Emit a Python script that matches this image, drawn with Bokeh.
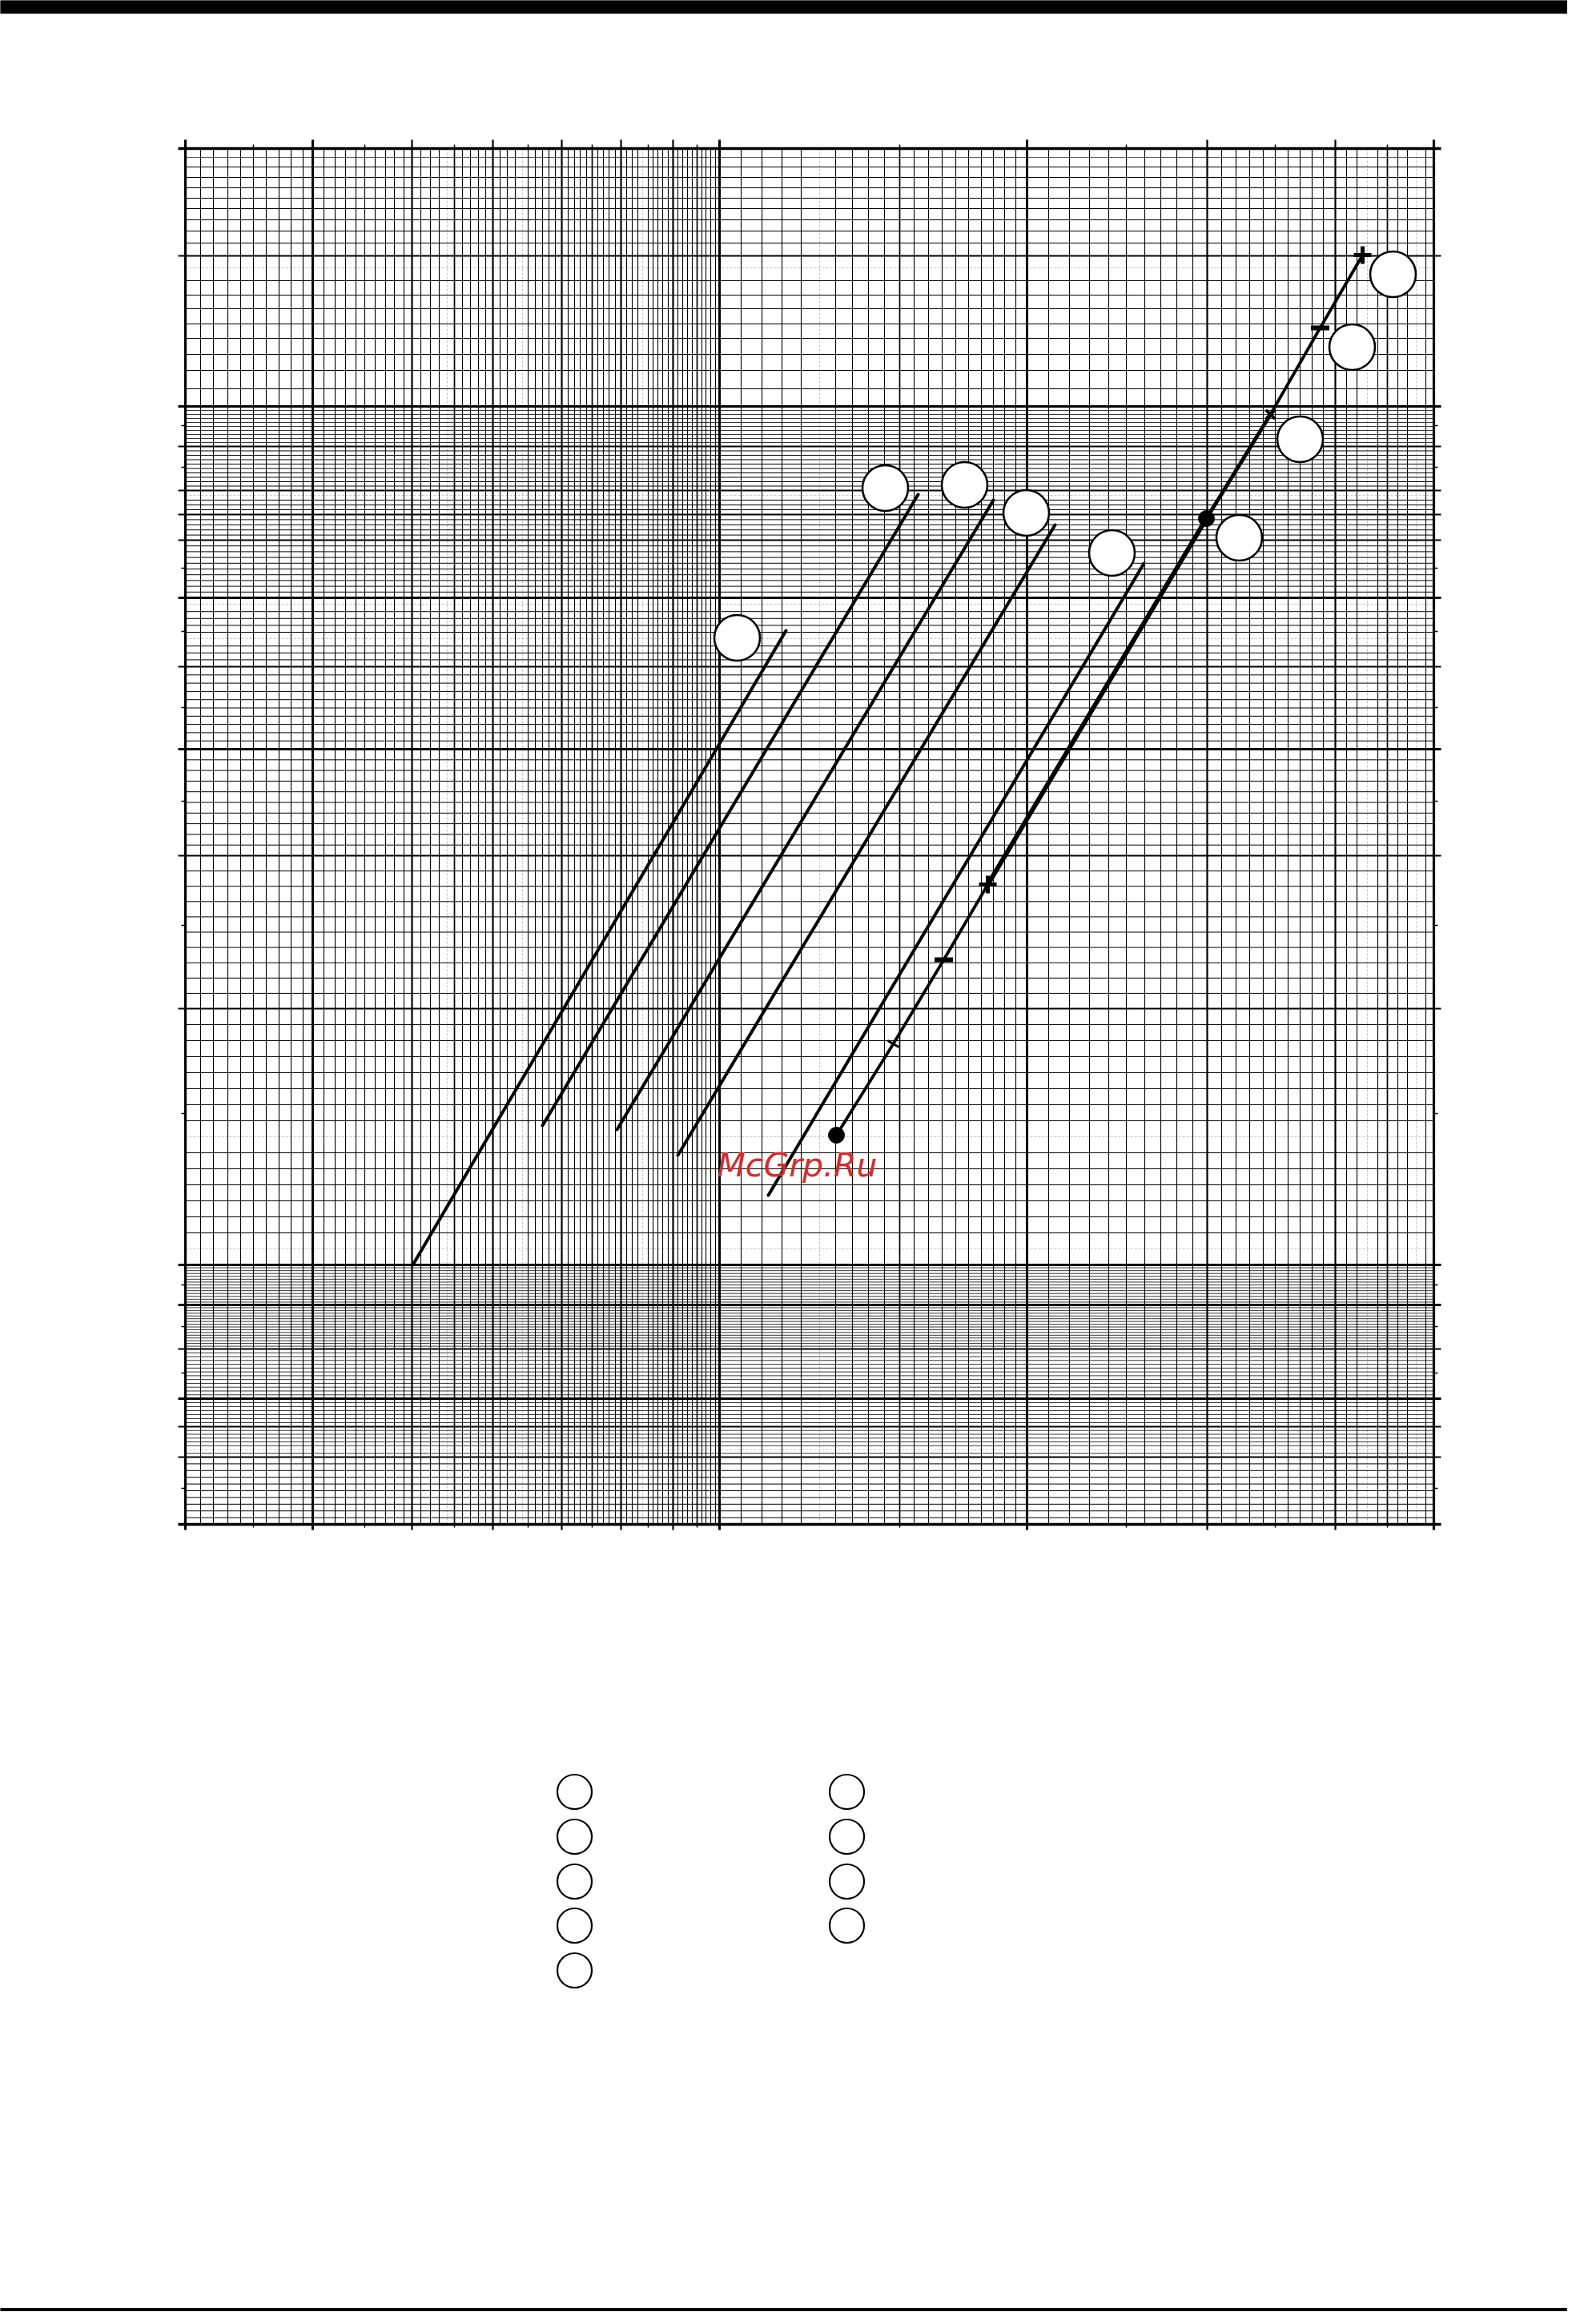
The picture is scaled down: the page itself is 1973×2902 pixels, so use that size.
import numpy as np
from bokeh.plotting import figure
from bokeh.models import Range1d
from bokeh.embed import file_html
from bokeh.resources import INLINE
from bokeh.core.properties import value

# Chart units: x 0..1559 (left..right border), y 0..1718 (bottom..top border)
X_END, Y_END = 1559, 1718

# ---- vertical grid lines (x positions, chart units) ----
x_heavy = [159, 667, 1051]
x_major = [283, 384, 470, 544, 609, 1276, 1436]
x_medium = [336, 508, 639, 892, 1501]
x_minor = [19, 35, 53, 69, 85, 101, 117, 132, 147,
           173, 187, 200, 213, 224, 237, 250, 261, 273,
           294, 306, 317, 346, 356, 366, 375,
           393, 402, 412, 428, 437, 446, 454, 462,
           478, 486, 493, 501, 515, 522, 529, 537,
           551, 558, 565, 578, 584, 590, 596, 603,
           615, 621, 627, 633, 645, 650, 656, 662,
           694, 720, 745, 769, 812, 833, 853, 873, 910, 928, 945, 962, 978, 994,
           1009, 1023, 1037,
           1078, 1104, 1129, 1153, 1175, 1198, 1218, 1238, 1258,
           1294, 1312, 1329, 1346, 1361, 1377, 1392, 1407, 1421,
           1450, 1463, 1489, 1514, 1526, 1549]
x_gray = [327, 421, 571, 792, 1476, 1537]
x_ticks_short = [85, 224, 336, 428, 508, 578, 639, 892, 1175, 1361, 1501]

# ---- horizontal grid lines (y positions, chart units) ----
y_heavy = [157, 274, 324, 968, 1157, 1396]
y_major = [84, 122, 219, 644, 835, 1071, 1229, 1261, 1291, 1346, 1584]
# sections between consecutive major lines and their number of divisions
y_sections = [0, 84, 122, 157, 219, 274, 324, 644, 835, 968, 1071, 1157,
              1229, 1261, 1291, 1346, 1396]
y_divisions = [10, 8, 7, 13, 16, 14, 16, 10, 10, 10, 10, 10, 5, 5, 10, 10]
y_minor_upper = [1418, 1441, 1461, 1481, 1499, 1518, 1535, 1553,
                 1600, 1615, 1629, 1643, 1656, 1669, 1682, 1695]
y_gray = [1707, 1569, 1285, 1149, 1106, 484, 344, 93]
y_ticks_short = [1372, 1320, 1194, 1115, 1020, 903, 748, 513, 299, 247, 189, 45]

# ---- curves ----
curve_x = [[284, 750], [446, 915], [539, 1009], [615, 1086], [728, 1197]]
curve_y = [[324, 1116], [498, 1286], [493, 1279], [461, 1248], [411, 1200]]

main_x = [813, 884, 947, 1002, 1275, 1355, 1417, 1470]
main_y = [486, 600, 705, 799, 1256, 1386, 1494, 1585]
main_widths = [3.8, 3.8, 3.8, 5.8, 4.8, 3.8, 3.8]
main_markers = ["dot", "tick", "dash", "plus", "dot", "x", "dash", "plus"]

# ---- label bubbles (empty) ----
label_x = [689, 874, 973, 1050, 1157, 1316, 1392, 1457, 1508]
label_y = [1107, 1294, 1298, 1263, 1213, 1232, 1355, 1470, 1561]

legend_left_x = 486
legend_right_x = 826
legend_rows_y = [-334, -390, -446, -501, -557]
legend_right_count = 4

watermark = "McGrp.Ru"
watermark_x, watermark_y = 664, 449

# ---------------------------------------------------------------
W, H = 1957, 2886
p = figure(width=W, height=H, output_backend="svg", toolbar_location=None,
           x_range=Range1d(-231, -231 + W), y_range=Range1d(1903 - H, 1903),
           x_axis_location=None, y_axis_location=None, min_border=0)
p.grid.visible = False
p.outline_line_color = None
p.background_fill_color = "white"
p.border_fill_color = "white"

# page bars
p.quad(left=[-231], right=[-231 + W], top=[1903], bottom=[1887], color="black")
p.quad(left=[-231], right=[-231 + W], top=[1907 - H], bottom=[1903 - H], color="black")


def vlines(xs, y0, y1, **kw):
    n = len(xs)
    p.segment(x0=list(xs), y0=[y0] * n, x1=list(xs), y1=[y1] * n, **kw)


def hlines(ys, x0, x1, **kw):
    n = len(ys)
    p.segment(x0=[x0] * n, y0=list(ys), x1=[x1] * n, y1=list(ys), **kw)


# minor horizontal lines (dense sections drawn finer)
y_minor, y_minor_dense = [], []
for a, b, n in zip(y_sections[:-1], y_sections[1:], y_divisions):
    pts = list(np.linspace(a, b, n + 1)[1:-1])
    if (b - a) / n < 5.2:
        y_minor_dense += pts
    else:
        y_minor += pts
y_minor += y_minor_upper
y_minor = [v for v in y_minor if min(abs(v - g) for g in y_gray) > 3]
y_minor_dense = [v for v in y_minor_dense if min(abs(v - g) for g in y_gray) > 3]

# gray lines
vlines(x_gray, 0, Y_END, line_color="#c4c4c4", line_width=1, line_dash="3 2")
hlines(y_gray, 0, X_END, line_color="#c4c4c4", line_width=1, line_dash="3 2")
hlines([1707], 0, X_END, line_color="#555555", line_width=1.2)

# minor lines
vlines(x_minor, 0, Y_END, line_color="black", line_width=1.1)
hlines(y_minor, 0, X_END, line_color="black", line_width=1.0)
hlines(y_minor_dense, 0, X_END, line_color="black", line_width=0.8)

# medium
vlines(x_medium, 0, Y_END, line_color="black", line_width=1.7)

# short ticks
vlines(x_ticks_short, Y_END, Y_END + 5, line_color="black", line_width=1.5)
vlines(x_ticks_short, -4, 0, line_color="black", line_width=1.5)
hlines(y_ticks_short, -5, 0, line_color="black", line_width=1.5)
hlines(y_ticks_short, X_END, X_END + 5, line_color="black", line_width=1.5)

# major lines with long ticks
vlines(x_major, -7, Y_END + 11, line_color="black", line_width=2.2)
hlines(y_major, -9, X_END + 9, line_color="black", line_width=2.2)
vlines(x_heavy, -7, Y_END + 11, line_color="black", line_width=3)
hlines(y_heavy, -9, X_END + 9, line_color="black", line_width=3.2)

# borders
vlines([0, X_END], -7, Y_END + 11, line_color="black", line_width=3.2)
hlines([0, Y_END], -9, X_END + 9, line_color="black", line_width=3.4)

# curves
for cx, cy in zip(curve_x, curve_y):
    p.line(cx, cy, line_color="black", line_width=4, line_cap="round")

for i in range(len(main_x) - 1):
    p.line(main_x[i:i + 2], main_y[i:i + 2], line_color="black",
           line_width=main_widths[i], line_cap="round")

# markers on the main line
def sel(kind):
    return ([x for x, m in zip(main_x, main_markers) if m == kind],
            [y for y, m in zip(main_y, main_markers) if m == kind])

dx, dy = sel("dot")
p.scatter(dx, dy, marker="circle", size=20, fill_color="black", line_color="black")
tx, ty = sel("tick")
p.scatter(tx, ty, marker="dash", size=16, line_color="black", line_width=3, angle=-0.52)
sx, sy = sel("dash")
p.scatter(sx, sy, marker="dash", size=23, line_color="black", line_width=6)
px_, py_ = sel("plus")
p.scatter(px_, py_, marker="cross", size=22, line_color="black", line_width=5)
xx, xy = sel("x")
p.scatter(xx, xy, marker="x", size=16, line_color="black", line_width=4)

# label bubbles
p.scatter(label_x, label_y, marker="circle", size=57, fill_color="white",
          line_color="black", line_width=2.6)

# legend bubbles below chart
p.scatter([legend_left_x] * len(legend_rows_y), legend_rows_y, marker="circle", size=43,
          fill_color="white", line_color="black", line_width=2.2)
p.scatter([legend_right_x] * legend_right_count, legend_rows_y[:legend_right_count],
          marker="circle", size=43, fill_color="white", line_color="black", line_width=2.2)

# watermark
p.text(x=[watermark_x], y=[watermark_y], text=[watermark], text_font=value("DejaVu Sans"),
       text_font_style="italic", text_font_size="41px", text_color="#d62b2b",
       text_baseline="alphabetic", text_align="left")

open("out.html", "w").write(file_html(p, INLINE))
